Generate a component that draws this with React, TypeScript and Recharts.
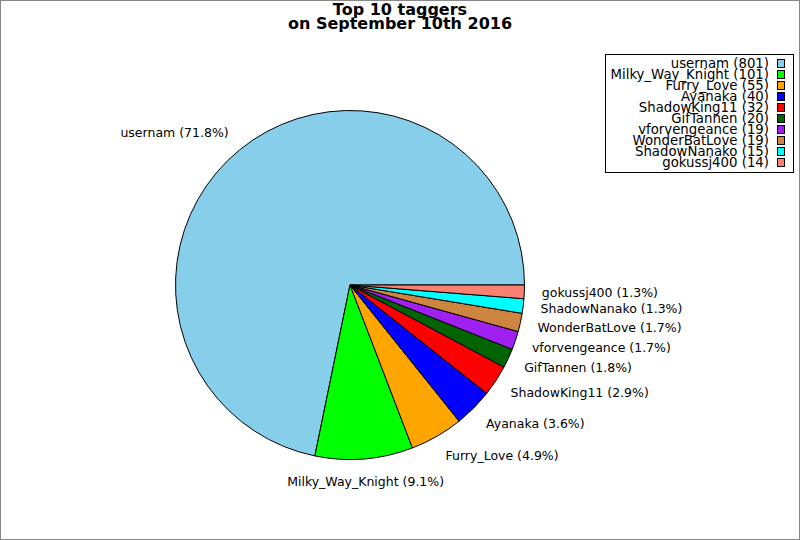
import { PieChart, Pie, Cell, Legend } from 'recharts';

const taggers = [
  'usernam',
  'Milky_Way_Knight',
  'Furry_Love',
  'Ayanaka',
  'ShadowKing11',
  'GifTannen',
  'vforvengeance',
  'WonderBatLove',
  'ShadowNanako',
  'gokussj400',
];
const tagCounts = [801, 101, 55, 40, 32, 20, 19, 19, 15, 14];
const sliceColors = [
  '#87ceeb',
  '#00ff00',
  '#ffa500',
  '#0000ff',
  '#ff0000',
  '#006400',
  '#a020f0',
  '#cd853f',
  '#00ffff',
  '#fa8072',
];
const titleLines = ['Top 10 taggers', 'on September 10th 2016'];

const data = taggers.map((name, i) => ({ name, value: tagCounts[i] }));
const total = tagCounts.reduce((a, b) => a + b, 0);
const FONT = '"DejaVu Sans", sans-serif';
const RAD = Math.PI / 180;

function renderLabel(props: any) {
  const { cx, cy, midAngle, outerRadius, index } = props;
  const r = outerRadius * 1.1;
  const cos = Math.cos(-midAngle * RAD);
  const sin = Math.sin(-midAngle * RAD);
  const x = cx + r * cos;
  const y = cy + r * sin + sin * 5;
  const anchor = cos > 0.1 ? 'start' : cos < -0.1 ? 'end' : 'middle';
  const pct = ((tagCounts[index] / total) * 100).toFixed(1);
  return (
    <text
      x={x}
      y={y}
      textAnchor={anchor}
      dominantBaseline="central"
      fontFamily={FONT}
      fontSize={12.5}
      fill="#000"
    >
      {`${taggers[index]} (${pct}%)`}
    </text>
  );
}

function LegendBox() {
  return (
    <div
      style={{
        boxSizing: 'border-box',
        width: 189,
        height: 119,
        border: '1px solid #000',
        background: '#fff',
        paddingTop: 3,
        fontFamily: FONT,
        fontSize: 13.3,
      }}
    >
      {taggers.map((name, i) => (
        <div
          key={name}
          style={{
            display: 'flex',
            justifyContent: 'flex-end',
            alignItems: 'center',
            height: 11,
            lineHeight: '11px',
            whiteSpace: 'nowrap',
          }}
        >
          <span>{`${name} (${tagCounts[i]})`}</span>
          <span
            style={{
              boxSizing: 'border-box',
              display: 'inline-block',
              flex: '0 0 auto',
              width: 8,
              height: 9,
              marginLeft: 8,
              marginRight: 8,
              border: '1px solid #000',
              background: sliceColors[i],
            }}
          />
        </div>
      ))}
    </div>
  );
}

export default function App() {
  return (
    <div style={{ position: 'absolute', left: 0, top: 0, width: 800, height: 540, background: '#fff' }}>
      <PieChart width={800} height={540} margin={{ top: 0, right: 0, bottom: 0, left: 0 }}>
        <Pie
          data={data}
          dataKey="value"
          nameKey="name"
          cx={350}
          cy={285}
          outerRadius={174.5}
          startAngle={0}
          endAngle={360}
          stroke="#000"
          strokeWidth={1}
          label={renderLabel}
          labelLine={false}
          isAnimationActive={false}
        >
          {data.map((d, i) => (
            <Cell key={d.name} fill={sliceColors[i]} />
          ))}
        </Pie>
        <Legend content={() => <LegendBox />} wrapperStyle={{ left: 605, top: 54, width: 189, height: 119 }} />
      </PieChart>
      <svg
        width={800}
        height={540}
        style={{ position: 'absolute', left: 0, top: 0, pointerEvents: 'none' }}
      >
        <rect x={0.5} y={0.5} width={799} height={539} fill="none" stroke="#888" />
        {titleLines.map((line, i) => (
          <text
            key={line}
            x={400}
            y={15 + i * 14}
            textAnchor="middle"
            fontFamily={FONT}
            fontWeight="bold"
            fontSize={16}
            fill="#000"
          >
            {line}
          </text>
        ))}
      </svg>
    </div>
  );
}
